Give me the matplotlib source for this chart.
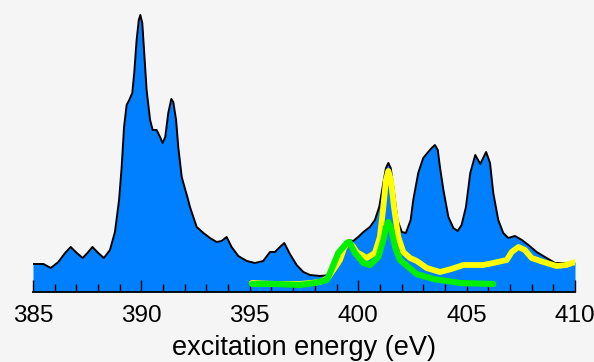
import numpy as np
import matplotlib
matplotlib.use('Agg')
import matplotlib.pyplot as plt
from matplotlib.ticker import MultipleLocator

# blue filled spectrum (excitation energy eV, intensity arb.)
spec_e = [385.0, 385.48, 385.82, 386.17, 386.48, 386.74, 387.02, 387.29, 387.51, 387.74,
          388.01, 388.27, 388.55, 388.78, 388.97, 389.09, 389.20, 389.32, 389.44, 389.58,
          389.67, 389.78, 389.88, 389.95, 390.04, 390.13, 390.24, 390.40, 390.52, 390.70,
          390.86, 390.98, 391.10, 391.24, 391.38, 391.47, 391.60, 391.70, 391.86, 392.0,
          392.12, 392.24, 392.55, 392.86, 393.16, 393.47, 393.70, 393.93, 394.16, 394.47,
          394.86, 395.24, 395.62, 395.93, 396.16, 396.39, 396.59, 396.85, 397.16, 397.47,
          397.78, 398.24, 398.70, 399.01, 399.31, 399.54, 399.77, 400.00, 400.24, 400.54,
          400.77, 400.97, 401.16, 401.28, 401.39, 401.50, 401.62, 401.81, 402.01, 402.20,
          402.42, 402.54, 402.77, 403.00, 403.23, 403.39, 403.54, 403.67, 403.77, 403.93,
          404.16, 404.39, 404.59, 404.77, 404.97, 405.17, 405.40, 405.63, 405.90, 406.08,
          406.23, 406.46, 406.69, 406.92, 407.23, 407.31, 407.55, 407.85, 408.23, 408.69,
          409.08, 409.62, 410.0]
spec_i = [28, 28, 24, 30, 39, 45, 39, 34, 39, 45,
          39, 34, 42, 60, 92, 125, 165, 187, 192, 199,
          219, 252, 272, 277, 269, 239, 202, 172, 162, 162,
          155, 149, 155, 179, 193, 190, 172, 145, 115, 104,
          95, 85, 65, 59, 54, 50, 51, 55, 45, 36,
          31, 29, 31, 40, 40, 45, 49, 38, 27, 20,
          17, 16, 17, 29, 44, 52, 51, 55, 60, 65,
          72, 85, 109, 124, 129, 124, 105, 72, 60, 59,
          72, 92, 119, 134, 140, 144, 147, 142, 125, 102,
          75, 64, 61, 67, 85, 119, 137, 128, 140, 129,
          99, 72, 59, 54, 56, 55, 52, 47, 40, 34,
          29, 29, 30]

# yellow trace
yel_e = [395.09, 396.2, 397.32, 398.24, 398.6, 398.85, 399.16, 399.35, 399.54, 399.75,
         399.93, 400.39, 400.77, 401.00, 401.16, 401.28, 401.39, 401.51, 401.65, 401.85,
         402.08, 402.39, 402.7, 403.16, 403.77, 404.30, 404.85, 405.77, 406.23, 406.85,
         407.08, 407.39, 407.69, 408.0, 408.54, 409.15, 409.6, 410.0]
yel_i = [9, 8, 8, 10, 14, 22, 32, 44, 50, 46,
         40, 34, 39, 55, 85, 112, 121, 112, 85, 55,
         40, 34, 31, 24, 20, 23, 27, 27, 29, 32,
         40, 45, 42, 34, 30, 26, 27, 30]

# green trace
grn_e = [395.1, 396.2, 397.32, 398.0, 398.55, 398.70, 399.08, 399.47, 399.59, 399.85,
         400.24, 400.54, 400.93, 401.16, 401.28, 401.39, 401.51, 401.70, 401.93, 402.31,
         402.7, 403.47, 403.77, 404.70, 406.23]
grn_i = [8, 8, 7, 9, 12, 19, 39, 49, 50, 39,
         29, 27, 35, 52, 65, 70, 64, 45, 32, 25,
         18, 13, 12, 9, 8]

tick_major = [385, 390, 395, 400, 405, 410]

fig = plt.figure(figsize=(5.94, 3.62), dpi=100, facecolor='#f5f5f5')
ax = fig.add_axes([33 / 594, 70 / 362, 542 / 594, 292 / 362])
ax.set_facecolor('#f5f5f5')

ax.fill_between(spec_e, spec_i, 0, color='#0080ff', lw=0, zorder=1)
ax.plot(spec_e, spec_i, color='black', lw=1.4, solid_joinstyle='round', zorder=2)
ax.plot(yel_e, yel_i, color='#ffff00', lw=4.2, solid_capstyle='round',
        solid_joinstyle='round', zorder=3)
ax.plot(grn_e, grn_i, color='#00f000', lw=4.4, solid_capstyle='round',
        solid_joinstyle='round', zorder=4)

ax.set_xlim(385, 410)
ax.set_ylim(0, 292)
for s in ['left', 'right', 'top']:
    ax.spines[s].set_visible(False)
ax.spines['bottom'].set_linewidth(1.3)
ax.spines['bottom'].set_zorder(5)
ax.set_yticks([])
ax.set_xticks(tick_major)
ax.xaxis.set_minor_locator(MultipleLocator(1))
ax.tick_params(axis='x', which='major', direction='in', length=9, width=1.0,
               pad=9, labelsize=17.5)
ax.tick_params(axis='x', which='minor', direction='in', length=5.5, width=1.0)
for lab in ax.get_xticklabels():
    lab.set_family('Liberation Sans')
ax.set_xlabel('excitation energy (eV)', fontsize=19.5, family='Liberation Sans', labelpad=6)

fig.savefig('out.png', dpi=100, facecolor='#f5f5f5')
